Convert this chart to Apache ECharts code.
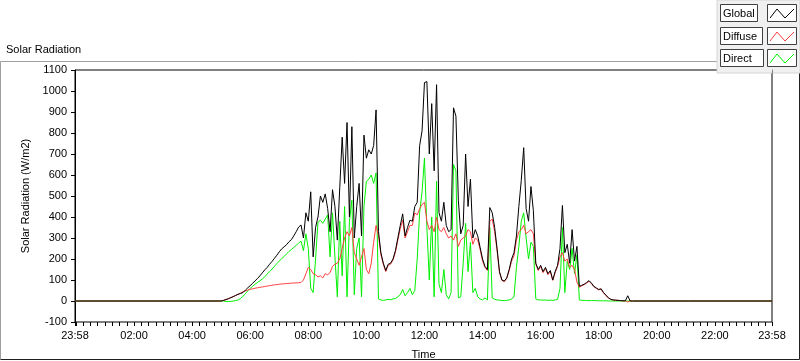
<!DOCTYPE html>
<html>
<head>
<meta charset="utf-8">
<script src="https://cdn.jsdelivr.net/npm/echarts@6/dist/echarts.min.js"></script>
<style>
  html, body { margin: 0; padding: 0; background: #fff; }
  #chart { width: 800px; height: 361px; }
</style>
</head>
<body>
<div id="chart"></div>
<script>
// samples every 5 minutes, starting 05:00 (minute 300 of the day)
const startMinute = 300;
const stepMinutes = 5;

const globalVals = [
  0, 3, 7, 11, 16, 21, 27, 32, 36, 40,
  52, 63, 73, 84, 96, 107, 120, 134, 148, 160,
  175, 188, 203, 218, 234, 248, 258, 268, 282, 292,
  310, 330, 352, 362, 300, 420, 380, 520, 210, 350,
  400, 500, 470, 510, 440, 330, 530, 450, 290, 540,
  780, 560, 850, 400, 830, 300, 450, 560, 310, 790,
  680, 720, 700, 740, 910, 330, 230, 180, 145, 175,
  180, 200, 240, 300, 360, 415, 310, 350, 385, 380,
  450, 470, 740, 810, 1040, 1045, 700, 940, 620, 1030,
  420, 380, 470, 360, 330, 340, 920, 880, 480, 320,
  360, 700, 450, 580, 300, 340, 310, 255, 200, 165,
  150, 445, 420, 350, 250, 140, 100, 95, 110, 150,
  200, 230, 310, 450, 575, 730, 440, 380, 545, 430,
  180, 150, 170, 140, 160, 130, 145, 100, 140, 170,
  250, 455, 230, 270, 180, 340, 190, 260, 70, 75,
  80, 88, 97, 85, 70, 62, 55, 58, 40, 28,
  15, 8, 5, 4, 3, 2, 1, 1, 25, 0,
  0
];

const diffuseVals = [
  0, 3, 7, 11, 16, 21, 26, 32, 38, 44,
  48, 52, 56, 58, 61, 63, 65, 67, 69, 71,
  73, 75, 77, 78, 80, 81, 82, 83, 84, 85,
  86, 86, 87, 88, 100, 130, 160, 150, 130, 125,
  115, 120, 110, 130, 125, 135, 165, 175, 180, 200,
  250, 300, 330, 310, 350, 230, 200, 170, 210, 250,
  150, 130, 180, 280, 360, 310, 220, 175, 140, 170,
  175, 195, 232, 290, 345, 385, 300, 330, 360, 360,
  420, 410, 440, 460, 470, 380, 340, 360, 330, 400,
  340, 330, 350, 320, 300, 310, 290, 320, 260, 290,
  300, 310, 340, 330, 270, 300, 290, 245, 190, 160,
  145, 380, 390, 330, 240, 135, 98, 92, 108, 145,
  190, 215, 290, 330, 340, 360, 320, 330, 340, 320,
  175, 145, 165, 135, 155, 125, 140, 98, 135, 165,
  210, 230, 190, 200, 160, 170, 150, 90, 65, 72,
  78, 85, 94, 82, 68, 60, 53, 56, 38, 26,
  14, 8, 5, 4, 3, 2, 1, 1, -5, 0,
  0
];

const directVals = [
  0, 0, -2, -3, -2, 0, 2, 5, 12, 22,
  35, 48, 60, 70, 80, 88, 96, 105, 115, 128,
  140, 152, 165, 178, 190, 202, 212, 224, 236, 245,
  255, 265, 276, 285, 240, 320, 250, 60, 40, 200,
  375, 385, 370, 390, 410, 210, 420, 210, 20, 380,
  120, 450, 20, 380, 480, 30, 250, 300, 20, 450,
  570, 580, 600, 560, 610, 10, 5, 3, 5, 8,
  6, 10, 12, 20, 30, 55, 25, 40, 60, 30,
  50, 200, 420, 520, 680, 350, 100, 400, 20, 570,
  80, 40, 150, 30, 10, 40, 650, 620, 15, 20,
  180, 370, 140, 280, 40, 60, 20, 10, 5, 15,
  5, 350, 15, 8, 5, 4, 2, 2, 3, 5,
  10, 20, 160, 260, 380, 420, 300, 200, 280, 260,
  10, 5, 5, 4, 5, 3, 4, 3, 5, 8,
  60, 350, 40, 190, 150, 250, 130, 220, 5, 3,
  3, 2, 2, 2, 2, 2, 1, 1, 1, 1,
  0, 0, 0, 0, 0, 0, 0, 0, 0, 0,
  0
];

// the small blip on the global trace near 21:05
const globalLate = [[1265, 0], [1267, 5], [1269, 0]];

const seriesNames = ['Global', 'Diffuse', 'Direct'];
const seriesColors = ['#000000', '#ff4040', '#00f000'];

// axis from 23:58 to 23:58, in minutes of the day
const axisMin = -2;
const axisMax = 1438;
const labelTicks = [-2, 120, 240, 360, 480, 600, 720, 840, 960, 1080, 1200, 1320, 1438];
const allTicks = [-2];
for (let m = 0; m <= 1425; m += 15) allTicks.push(m);
allTicks.push(1438);

function toPairs(vals, extra) {
  const out = [[axisMin, 0]];
  vals.forEach((v, i) => out.push([startMinute + i * stepMinutes, v]));
  (extra || []).forEach(p => out.push(p));
  out.push([axisMax, 0]);
  return out;
}

function fmtTime(v) {
  let m = Math.round(v);
  if (m < 0) m += 1440;
  if (m >= 1440) m -= 1440;
  const h = Math.floor(m / 60), mm = m % 60;
  return String(h).padStart(2, '0') + ':' + String(mm).padStart(2, '0');
}

const font = 'Liberation Sans';
const chart = echarts.init(document.getElementById('chart'));

// legend boxes, LabVIEW style
const legendRows = [4, 27, 49];
const labelWidths = [37, 42, 43];
const legendGraphics = [
  { type: 'rect', shape: { x: 717, y: 0, width: 83, height: 73 }, style: { fill: '#f0f0f0', stroke: '#d4d4d4' } }
];
seriesNames.forEach((name, i) => {
  const y = legendRows[i];
  legendGraphics.push(
    { type: 'rect', shape: { x: 720.5, y: y + 0.5, width: labelWidths[i], height: 17 }, style: { fill: '#fff', stroke: '#404040', lineWidth: 1 } },
    { type: 'text', x: 723, y: y + 9.5, style: { text: name, font: '11px ' + font, fill: '#000', textVerticalAlign: 'middle' } },
    { type: 'rect', shape: { x: 767.5, y: y + 0.5, width: 29, height: 17 }, style: { fill: '#fff', stroke: '#404040', lineWidth: 1 } },
    { type: 'polyline', shape: { points: [[770, y + 14], [777, y + 5], [785, y + 14], [794, y + 5]] }, style: { stroke: seriesColors[i], lineWidth: 1, fill: null } }
  );
});

const option = {
  animation: false,
  textStyle: { fontFamily: font, fontSize: 11, color: '#000' },
  graphic: [
    { type: 'polyline', shape: { points: [[717, 61.5], [0.5, 61.5], [0.5, 359.5]] }, style: { stroke: '#a0a0a0', lineWidth: 1, fill: null } },
    { type: 'polyline', shape: { points: [[0.5, 359.5], [799.5, 359.5], [799.5, 73]] }, style: { stroke: '#202020', lineWidth: 1, fill: null } },
    { type: 'text', x: 6, y: 44, style: { text: 'Solar Radiation', font: '11px ' + font, fill: '#000' } }
  ].concat(legendGraphics),
  grid: {
    left: 75, top: 70, right: 28, bottom: 39,
    outerBoundsMode: 'none', containLabel: false,
    show: true, borderColor: '#000', borderWidth: 1, backgroundColor: '#fff'
  },
  xAxis: {
    type: 'value', min: axisMin, max: axisMax,
    name: 'Time', nameLocation: 'middle', nameGap: 27,
    nameTextStyle: { fontFamily: font, fontSize: 11, color: '#000' },
    axisLine: { show: true, onZero: false, lineStyle: { color: '#808080', width: 1 } },
    axisTick: { show: true, customValues: allTicks, length: 4, lineStyle: { color: '#000' } },
    axisLabel: { customValues: labelTicks, formatter: fmtTime, margin: 8, color: '#000', fontFamily: font, fontSize: 11 },
    splitLine: { show: false }
  },
  yAxis: [
    {
      type: 'value', min: -100, max: 1100, interval: 100,
      name: 'Solar Radiation (W/m2)', nameLocation: 'middle', nameGap: 33,
      nameTextStyle: { fontFamily: font, fontSize: 11, color: '#000' },
      axisLine: { show: true, onZero: false, lineStyle: { color: '#000' } },
      axisTick: { show: true, length: 4, lineStyle: { color: '#000' } },
      axisLabel: { margin: 8, color: '#000', fontFamily: font, fontSize: 11, formatter: v => String(v) },
      splitLine: { show: false }
    },
    {
      type: 'value', min: -100, max: 1100, position: 'right',
      axisLine: { show: true, onZero: false, lineStyle: { color: '#808080' } },
      axisTick: { show: false }, axisLabel: { show: false }, splitLine: { show: false }
    }
  ],
  series: [
    { name: 'Global', type: 'line', data: toPairs(globalVals, globalLate) },
    { name: 'Diffuse', type: 'line', data: toPairs(diffuseVals) },
    { name: 'Direct', type: 'line', data: toPairs(directVals) }
  ].map((s, i) => Object.assign(s, {
    yAxisIndex: 0,
    showSymbol: false, symbol: 'none',
    lineStyle: { color: seriesColors[i], width: 1 },
    itemStyle: { color: seriesColors[i] },
    z: 5 - i
  }))
};

chart.setOption(option);
</script>
</body>
</html>
